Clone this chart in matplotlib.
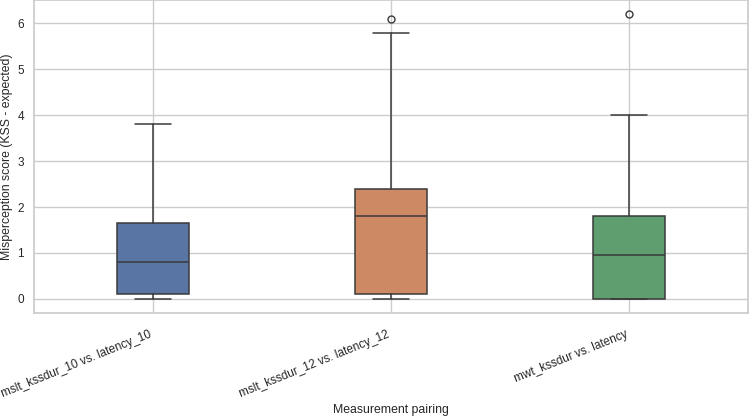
import matplotlib
matplotlib.use("Agg")
from matplotlib import pyplot as plt
import seaborn as sns

# box statistics
pairings = ["mslt_kssdur_10 vs. latency_10", "mslt_kssdur_12 vs. latency_12", "mwt_kssdur vs. latency"]
whislo = [0.0, 0.0, 0.0]
q1 = [0.1, 0.1, 0.0]
med = [0.8, 1.8, 0.95]
q3 = [1.65, 2.4, 1.8]
whishi = [3.8, 5.8, 4.0]
fliers = [[], [6.1], [6.2]]

sns.set_theme(style="whitegrid")
plt.rcParams['font.family'] = ['Liberation Sans', 'DejaVu Sans']

stats = []
for i in range(len(pairings)):
    stats.append({'label': pairings[i], 'whislo': whislo[i], 'q1': q1[i], 'med': med[i],
                  'q3': q3[i], 'whishi': whishi[i], 'fliers': fliers[i]})

colors = [sns.desaturate(c, 0.75) for c in sns.color_palette("deep")[:3]]
line_c = '#3a3a3a'

fig = plt.figure(figsize=(7.49, 4.18), dpi=100)
ax = fig.add_axes([0.045, 0.251, 0.954, 0.749])

bp = ax.bxp(stats, positions=range(len(pairings)), widths=0.3, patch_artist=True,
            boxprops=dict(edgecolor=line_c, linewidth=1.1),
            medianprops=dict(color=line_c, linewidth=1.1),
            whiskerprops=dict(color=line_c, linewidth=1.1),
            capprops=dict(color=line_c, linewidth=1.1),
            flierprops=dict(marker='o', markerfacecolor='none', markeredgecolor=line_c,
                            markersize=5, markeredgewidth=1.0))
for patch, c in zip(bp['boxes'], colors):
    patch.set_facecolor(c)

ax.set_xlim(-0.5, 2.5)
ax.set_ylim(-0.31, 6.51)
ax.set_xticks(range(len(pairings)))
ax.set_xticklabels(pairings, rotation=22, ha='right', fontsize=8.5)
ax.tick_params(axis='y', labelsize=8.5, length=0, pad=7)
ax.tick_params(axis='x', length=0, pad=11)
ax.set_xlabel('Measurement pairing', fontsize=8.8, labelpad=3)
ax.set_ylabel('Misperception score (KSS - expected)', fontsize=8.8, labelpad=3)

fig.savefig('out.png', dpi=100)
